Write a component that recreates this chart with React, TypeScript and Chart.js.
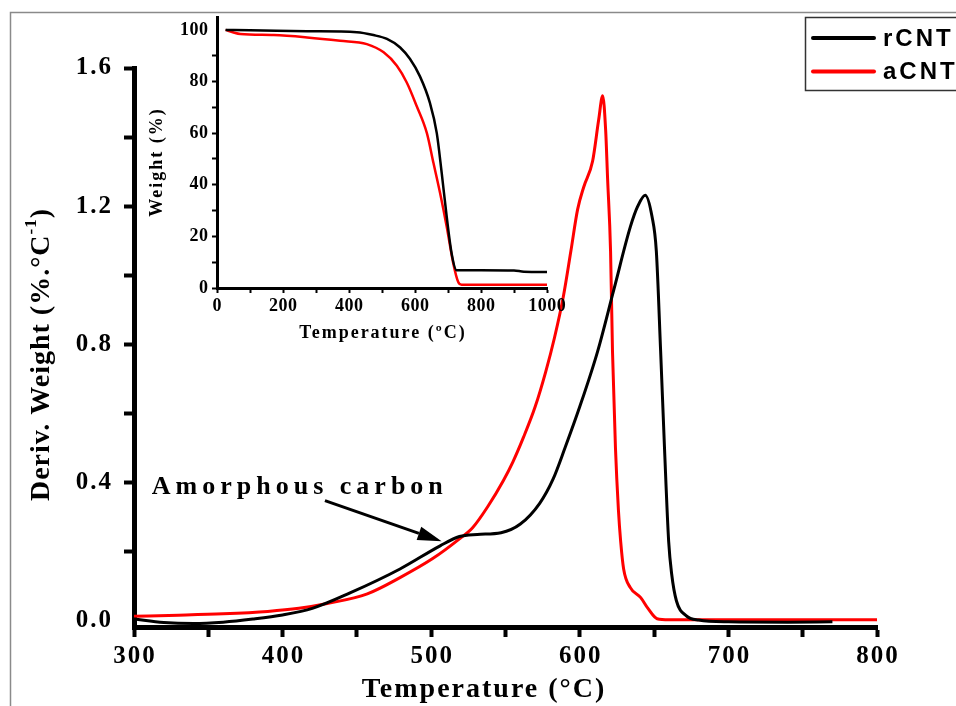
import React, { useEffect, useRef } from 'react';
import { Chart, registerables } from 'chart.js';

Chart.register(...registerables);

const SERIF = "'Liberation Serif', 'Times New Roman', serif";
const SANS = "'Liberation Sans', Arial, sans-serif";

// Derivative weight (DTG) curves, %/°C against temperature in °C
const rcntTemp = [300, 320, 340, 360, 380, 400, 420, 445, 479, 506, 519, 531, 547, 560, 573, 582, 590, 600, 612, 623, 634, 639, 644, 648.6, 651.5, 654.4, 657, 659.8, 661.8, 665, 671.5, 680, 700, 740, 770];
const rcntDeriv = [0.005, -0.005, -0.008, -0.004, 0.005, 0.017, 0.036, 0.08, 0.15, 0.217, 0.244, 0.25, 0.255, 0.28, 0.34, 0.41, 0.5, 0.62, 0.78, 0.96, 1.14, 1.2, 1.232, 1.17, 1.07, 0.78, 0.5, 0.23, 0.136, 0.058, 0.015, 0.002, -0.003, -0.004, -0.003];

const acntTemp = [300, 330, 360, 390, 411, 430, 457, 479, 501, 519, 528, 538, 548.6, 555, 562, 570, 577, 583, 589, 594, 598.5, 602.6, 608.6, 612.7, 615.4, 617.4, 618.7, 620.7, 622, 624, 626, 627.5, 629.5, 634, 641, 646, 652, 660, 800];
const acntDeriv = [0.013, 0.016, 0.02, 0.027, 0.036, 0.05, 0.078, 0.125, 0.18, 0.237, 0.27, 0.33, 0.406, 0.46, 0.53, 0.62, 0.72, 0.82, 0.94, 1.07, 1.19, 1.255, 1.33, 1.45, 1.52, 1.42, 1.28, 1.07, 0.78, 0.5, 0.32, 0.23, 0.15, 0.096, 0.067, 0.035, 0.006, 0.003, 0.003];

// Thermogravimetric (TGA) curves for the inset, weight % against temperature in °C
const rcntTgaTemp = [26, 100, 273, 424, 474, 515, 555, 585, 615, 645, 666, 681, 696, 711, 726, 800, 900, 930, 1000];
const rcntWeight = [100, 99.9, 99.5, 99.1, 98, 96.5, 93.2, 88.7, 82, 71.8, 60, 44.5, 27.7, 13.4, 6.9, 6.9, 6.8, 6.3, 6.2];
const acntTgaTemp = [26, 50, 71, 172, 273, 373, 454, 505, 545, 575, 605, 636, 656, 676, 696, 716, 731, 741, 1000];
const acntWeight = [100, 99, 98.4, 98, 97.1, 95.8, 94.5, 91.3, 86.1, 79.6, 70.5, 60, 48.4, 36.8, 23.8, 9.5, 2.3, 1.3, 1.3];

// Tick labels
const mainXLabels = [300, 400, 500, 600, 700, 800];
const mainYLabels = [0, 0.4, 0.8, 1.2, 1.6];
const insetXLabels = [0, 200, 400, 600, 800, 1000];
const insetYLabels = [0, 20, 40, 60, 80, 100];

// Annotation (data coordinates)
const noteText = 'Amorphous carbon';
const noteAt = { x: 312, y: 0.368 };
const arrowFrom = { x: 428.5, y: 0.348 };
const arrowTo = { x: 507, y: 0.23 };

const pts = (xs: number[], ys: number[]) => xs.map((x, i) => ({ x, y: ys[i] }));

function spacedText(
  ctx: CanvasRenderingContext2D,
  text: string,
  x: number,
  y: number,
  spacing: number,
  align: 'left' | 'center' | 'right'
) {
  ctx.save();
  (ctx as any).letterSpacing = '0px';
  ctx.textAlign = 'left';
  const base = ctx.measureText(text).width;
  const w = base + spacing * Math.max(0, text.length - 1);
  (ctx as any).letterSpacing = spacing + 'px';
  const x0 = align === 'center' ? x - w / 2 : align === 'right' ? x - w : x;
  ctx.fillText(text, x0, y);
  ctx.restore();
  return w;
}

const mainDecor = {
  id: 'mainDecor',
  beforeDraw(chart: any) {
    const ctx: CanvasRenderingContext2D = chart.ctx;
    ctx.save();
    ctx.strokeStyle = '#8a8a8a';
    ctx.lineWidth = 1.5;
    ctx.beginPath();
    ctx.moveTo(10.5, chart.height);
    ctx.lineTo(10.5, 12.5);
    ctx.lineTo(chart.width, 12.5);
    ctx.stroke();
    ctx.restore();
  },
  afterDraw(chart: any) {
    const ctx: CanvasRenderingContext2D = chart.ctx;
    const xs = chart.scales.x;
    const ys = chart.scales.y;
    const area = chart.chartArea;
    ctx.save();
    ctx.fillStyle = '#000';
    ctx.textBaseline = 'middle';

    // tick labels
    ctx.font = `bold 25px ${SERIF}`;
    mainXLabels.forEach((v) => {
      spacedText(ctx, String(v), xs.getPixelForValue(v), area.bottom + 30, 2, 'center');
    });
    mainYLabels.forEach((v) => {
      spacedText(ctx, v.toFixed(1), area.left - 23, ys.getPixelForValue(v), 2, 'right');
    });

    // x title
    ctx.font = `bold 28px ${SERIF}`;
    spacedText(ctx, 'Temperature (°C)', 483, area.bottom + 63, 2, 'center');

    // y title with superscript
    ctx.save();
    ctx.translate(42, 355);
    ctx.rotate(-Math.PI / 2);
    ctx.font = `bold 28px ${SERIF}`;
    (ctx as any).letterSpacing = '0px';
    const p1 = 'Deriv. Weight (%.°C';
    const p2 = '-1';
    const p3 = ')';
    const sp = 1;
    const w1 = ctx.measureText(p1).width + sp * (p1.length - 1);
    ctx.font = `bold 17px ${SERIF}`;
    const w2 = ctx.measureText(p2).width + sp;
    ctx.font = `bold 28px ${SERIF}`;
    const w3 = ctx.measureText(p3).width;
    const total = w1 + w2 + w3 + 2;
    let cx = -total / 2;
    spacedText(ctx, p1, cx, 0, sp, 'left');
    cx += w1 + 1;
    ctx.font = `bold 17px ${SERIF}`;
    spacedText(ctx, p2, cx, -10, sp, 'left');
    cx += w2 + 1;
    ctx.font = `bold 28px ${SERIF}`;
    spacedText(ctx, p3, cx, 0, 0, 'left');
    ctx.restore();

    // annotation text and arrow
    ctx.font = `bold 26px ${SERIF}`;
    ctx.textBaseline = 'alphabetic';
    spacedText(ctx, noteText, xs.getPixelForValue(noteAt.x), ys.getPixelForValue(noteAt.y), 5, 'left');
    const ax0 = xs.getPixelForValue(arrowFrom.x);
    const ay0 = ys.getPixelForValue(arrowFrom.y);
    const ax1 = xs.getPixelForValue(arrowTo.x);
    const ay1 = ys.getPixelForValue(arrowTo.y);
    const ang = Math.atan2(ay1 - ay0, ax1 - ax0);
    const headLen = 24;
    const headHalf = 7;
    const bx = ax1 - headLen * Math.cos(ang);
    const by = ay1 - headLen * Math.sin(ang);
    ctx.strokeStyle = '#000';
    ctx.lineWidth = 3;
    ctx.beginPath();
    ctx.moveTo(ax0, ay0);
    ctx.lineTo(bx, by);
    ctx.stroke();
    ctx.beginPath();
    ctx.moveTo(ax1, ay1);
    ctx.lineTo(bx + headHalf * Math.sin(ang), by - headHalf * Math.cos(ang));
    ctx.lineTo(bx - headHalf * Math.sin(ang), by + headHalf * Math.cos(ang));
    ctx.closePath();
    ctx.fillStyle = '#000';
    ctx.fill();

    // legend
    ctx.strokeStyle = '#333';
    ctx.lineWidth = 1.5;
    ctx.strokeRect(805.5, 17.5, 200, 73);
    ctx.font = `bold 24px ${SANS}`;
    ctx.textBaseline = 'middle';
    chart.data.datasets.forEach((ds: any, i: number) => {
      const y = 38 + i * 33.5;
      ctx.strokeStyle = ds.borderColor;
      ctx.lineWidth = 4;
      ctx.lineCap = 'round';
      ctx.beginPath();
      ctx.moveTo(813, y);
      ctx.lineTo(874, y);
      ctx.stroke();
      ctx.fillStyle = '#000';
      spacedText(ctx, ds.label, 883, y + 1, 3, 'left');
    });
    ctx.restore();
  },
};

const insetDecor = {
  id: 'insetDecor',
  afterDraw(chart: any) {
    const ctx: CanvasRenderingContext2D = chart.ctx;
    const xs = chart.scales.x;
    const ys = chart.scales.y;
    const area = chart.chartArea;
    ctx.save();
    ctx.fillStyle = '#000';
    ctx.textBaseline = 'middle';
    ctx.font = `bold 18px ${SERIF}`;
    insetXLabels.forEach((v) => {
      spacedText(ctx, String(v), xs.getPixelForValue(v), area.bottom + 18, 0.5, 'center');
    });
    insetYLabels.forEach((v) => {
      spacedText(ctx, String(v), area.left - 9, ys.getPixelForValue(v), 0.5, 'right');
    });
    ctx.font = `bold 18px ${SERIF}`;
    spacedText(ctx, 'Temperature (ºC)', (area.left + area.right) / 2, area.bottom + 45, 2, 'center');
    ctx.save();
    ctx.translate(17, 158);
    ctx.rotate(-Math.PI / 2);
    spacedText(ctx, 'Weight (%)', 0, 0, 2, 'center');
    ctx.restore();
    ctx.restore();
  },
};

export default function App() {
  const mainRef = useRef<HTMLCanvasElement>(null);
  const insetRef = useRef<HTMLCanvasElement>(null);

  useEffect(() => {
    const lineSet = (label: string, color: string, data: any[], width: number) => ({
      label,
      data,
      borderColor: color,
      backgroundColor: color,
      borderWidth: width,
      pointRadius: 0,
      fill: false,
      cubicInterpolationMode: 'monotone' as const,
    });

    const main = new Chart(mainRef.current!, {
      type: 'line',
      data: {
        datasets: [
          lineSet('rCNT', '#000000', pts(rcntTemp, rcntDeriv), 3),
          lineSet('aCNT', '#ff0000', pts(acntTemp, acntDeriv), 3),
        ],
      },
      options: {
        animation: false,
        responsive: false,
        events: [],
        layout: { padding: { left: 0, top: 68, right: 79, bottom: 0 } },
        plugins: { legend: { display: false }, tooltip: { enabled: false }, title: { display: false } },
        scales: {
          x: {
            type: 'linear',
            min: 300,
            max: 800,
            ticks: { stepSize: 50, display: false },
            grid: { drawOnChartArea: false, drawTicks: true, tickLength: 10, tickWidth: 4, tickColor: '#000' },
            border: { display: true, color: '#000', width: 5 },
            afterFit: (s: any) => {
              s.height = 79;
            },
          },
          y: {
            type: 'linear',
            min: -0.018,
            max: 1.6,
            ticks: { stepSize: 0.2, display: false },
            grid: {
              drawOnChartArea: false,
              drawTicks: true,
              tickLength: 10,
              tickWidth: 4,
              tickColor: (c: any) => (c.tick && c.tick.value < -0.001 ? 'rgba(0,0,0,0)' : '#000'),
            },
            border: { display: true, color: '#000', width: 5 },
            afterFit: (s: any) => {
              s.width = 134;
            },
          },
        },
      },
      plugins: [mainDecor],
    });

    const inset = new Chart(insetRef.current!, {
      type: 'line',
      data: {
        datasets: [
          lineSet('rCNT', '#000000', pts(rcntTgaTemp, rcntWeight), 2.5),
          lineSet('aCNT', '#ff0000', pts(acntTgaTemp, acntWeight), 2.5),
        ],
      },
      options: {
        animation: false,
        responsive: false,
        events: [],
        layout: { padding: { left: 0, top: 12, right: 23, bottom: 0 } },
        plugins: { legend: { display: false }, tooltip: { enabled: false } },
        scales: {
          x: {
            type: 'linear',
            min: 0,
            max: 1000,
            ticks: { stepSize: 100, display: false },
            grid: { drawOnChartArea: false, drawTicks: true, tickLength: 5, tickWidth: 2, tickColor: '#000' },
            border: { display: true, color: '#000', width: 3 },
            afterFit: (s: any) => {
              s.height = 62;
            },
          },
          y: {
            type: 'linear',
            min: 0,
            max: 105,
            ticks: { stepSize: 10, display: false },
            grid: {
              drawOnChartArea: false,
              drawTicks: true,
              tickLength: 5,
              tickWidth: 2,
              tickColor: (c: any) => (c.tick && c.tick.value > 100.5 ? 'rgba(0,0,0,0)' : '#000'),
            },
            border: { display: true, color: '#000', width: 3 },
            afterFit: (s: any) => {
              s.width = 77;
            },
          },
        },
      },
      plugins: [insetDecor],
    });

    return () => {
      main.destroy();
      inset.destroy();
    };
  }, []);

  return (
    <div style={{ position: 'fixed', left: 0, top: 0, width: 956, height: 706, background: '#fff' }}>
      <canvas ref={mainRef} width={956} height={706} style={{ position: 'absolute', left: 0, top: 0 }} />
      <canvas ref={insetRef} width={430} height={345} style={{ position: 'absolute', left: 140, top: 5 }} />
    </div>
  );
}
